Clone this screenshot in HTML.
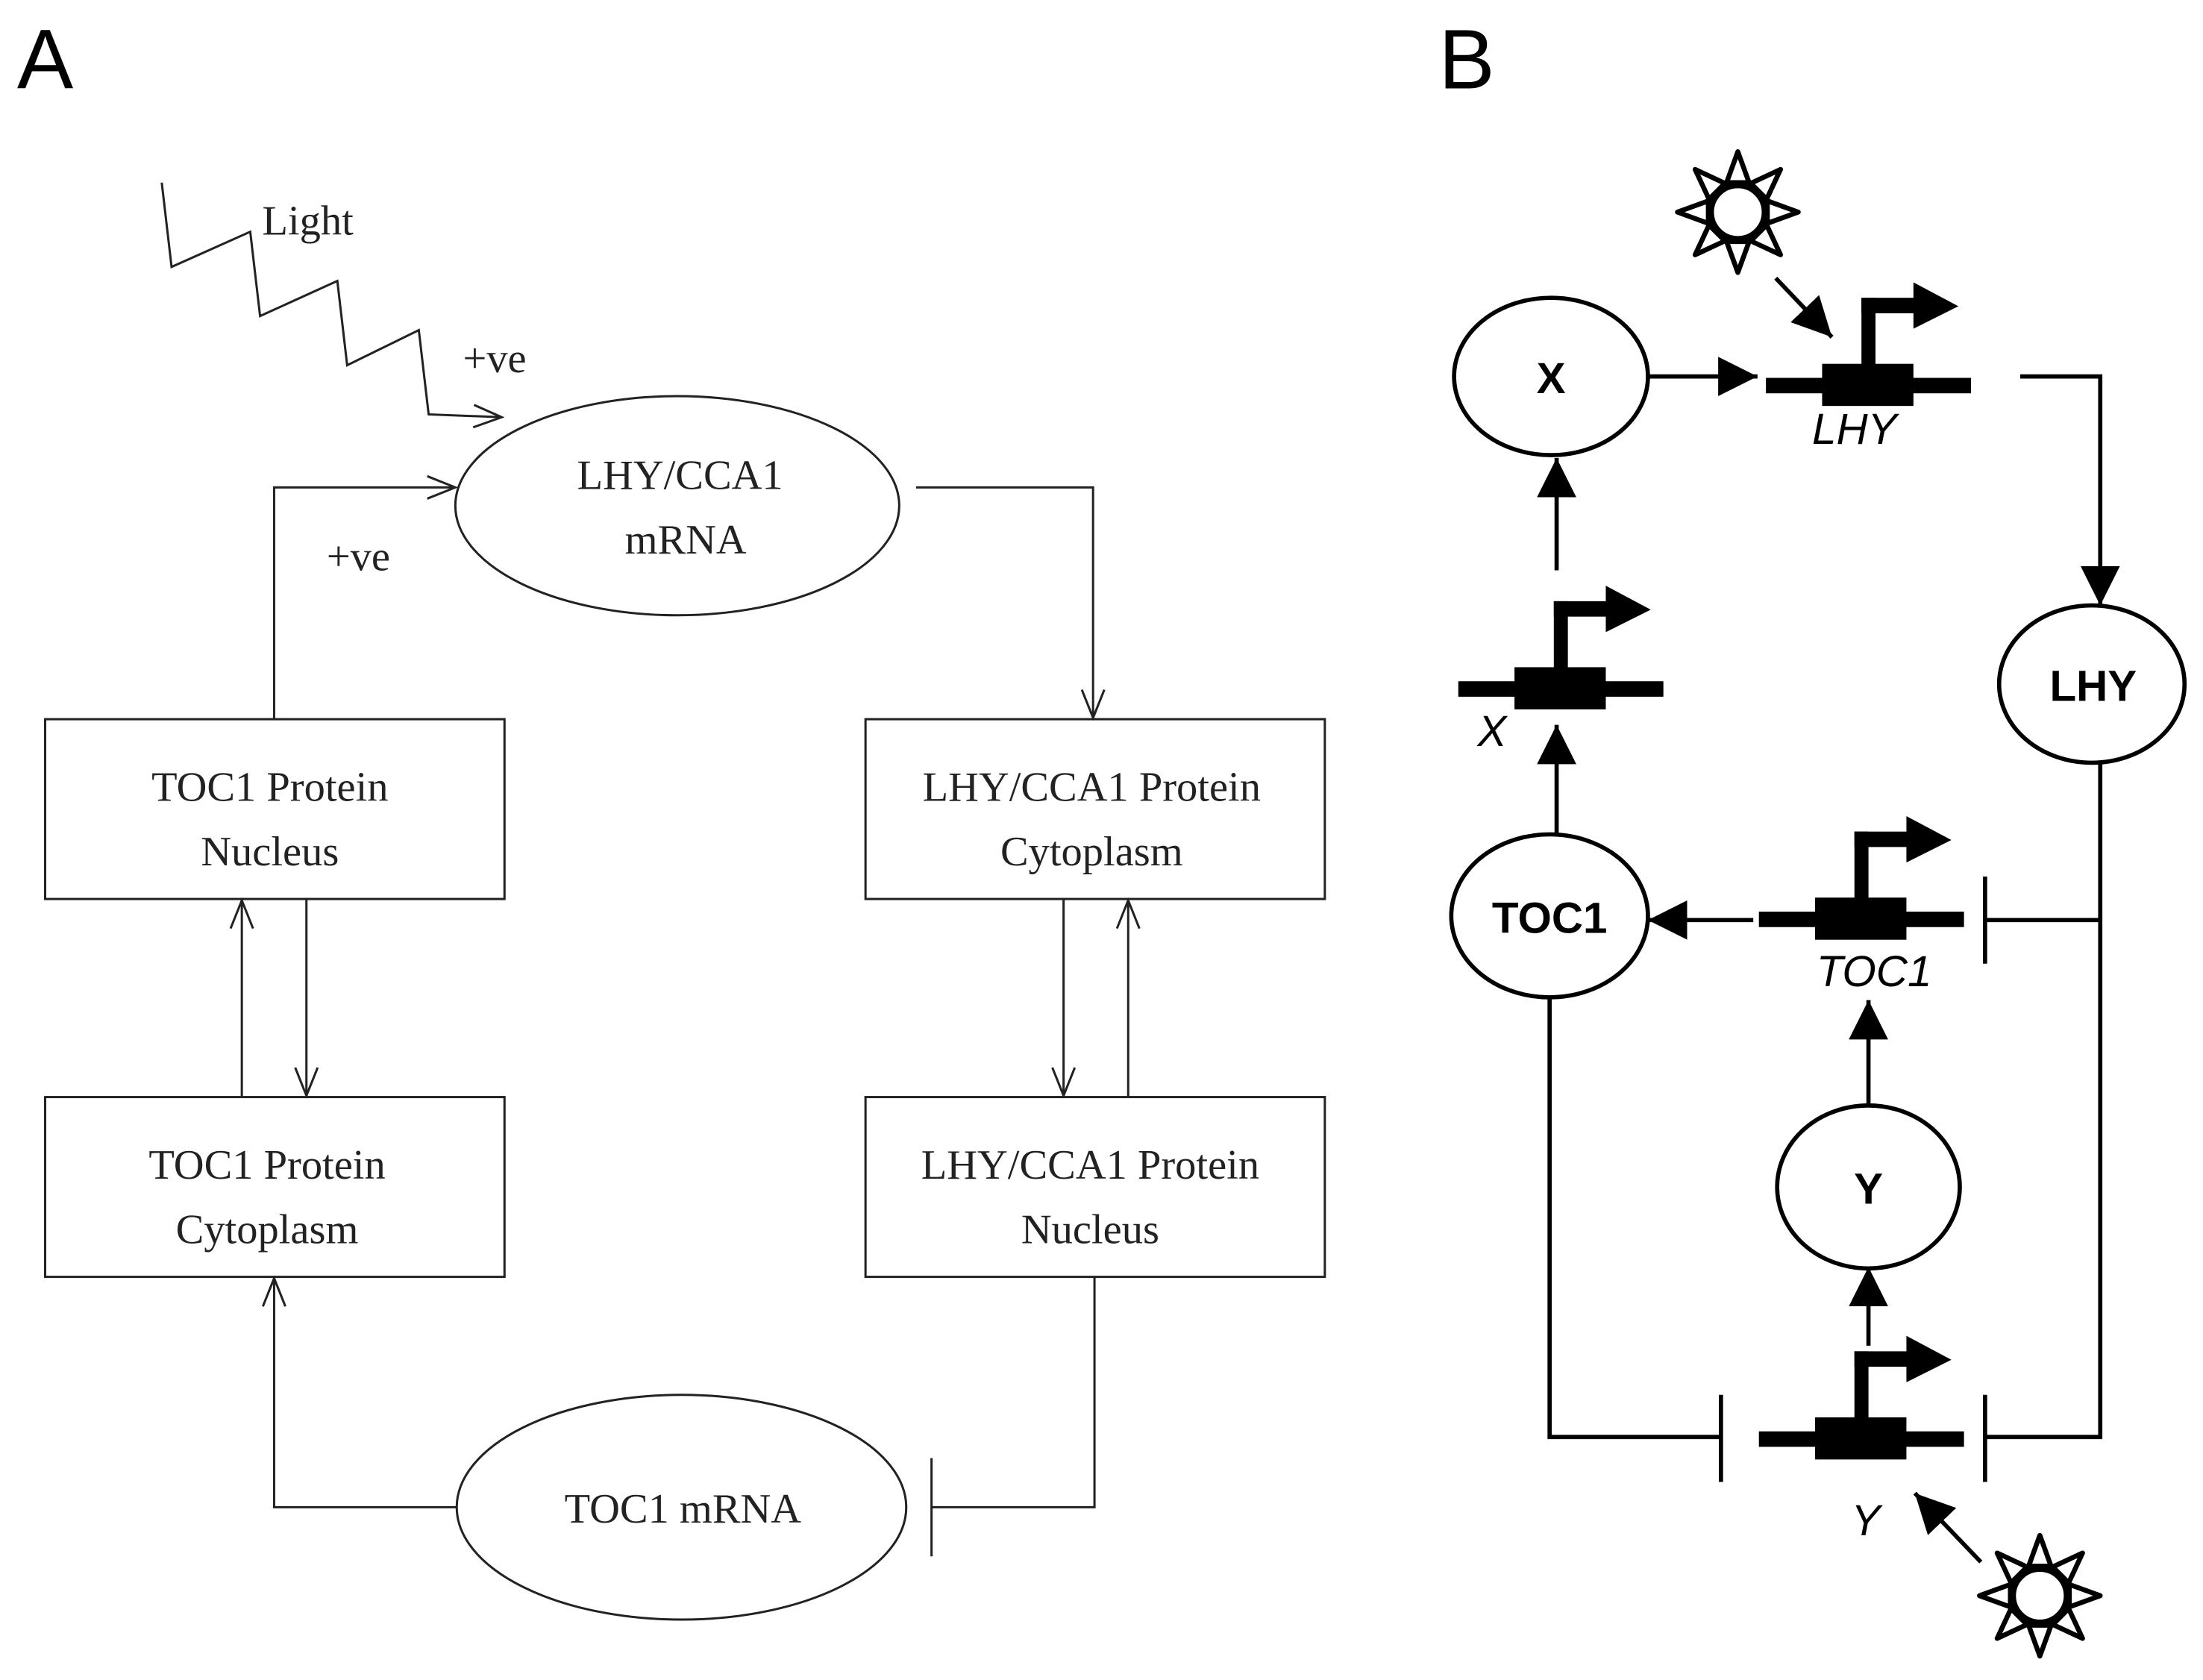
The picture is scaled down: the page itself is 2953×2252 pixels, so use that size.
<!DOCTYPE html>
<html><head><meta charset="utf-8"><style>html,body{margin:0;padding:0;background:#fff}svg{display:block}</style></head>
<body>
<svg width="2953" height="2252" viewBox="0 0 1568 1196" xmlns="http://www.w3.org/2000/svg">
<defs>
<marker id="oa" markerWidth="24" markerHeight="18" refX="22" refY="9" orient="auto" markerUnits="userSpaceOnUse">
<path d="M2,1 L22,9 L2,17" fill="none" stroke="#222" stroke-width="1.6"/>
</marker>
<marker id="fa" markerWidth="30" markerHeight="28" refX="28" refY="14" orient="auto" markerUnits="userSpaceOnUse">
<path d="M0,0 L28,14 L0,28 Z" fill="#000"/>
</marker>
<g id="gene">
<rect x="-73" y="-6" width="146" height="11" fill="#000"/>
<rect x="-33" y="-16" width="65" height="30" fill="#000"/>
<rect x="-5" y="-63" width="10" height="50" fill="#000"/>
<rect x="-5" y="-63" width="38" height="11" fill="#000"/>
<path d="M32,-74 L64,-57 L32,-41 Z" fill="#000"/>
</g>
<g id="sun">
<circle r="19" fill="#fff" stroke="#000" stroke-width="4"/>
<g fill="#fff" stroke="#000" stroke-width="3.5" stroke-linejoin="round">
<path d="M-8,-21 L0,-43 L8,-21 Z"/>
<path d="M-8,-21 L0,-43 L8,-21 Z" transform="rotate(45)"/>
<path d="M-8,-21 L0,-43 L8,-21 Z" transform="rotate(90)"/>
<path d="M-8,-21 L0,-43 L8,-21 Z" transform="rotate(135)"/>
<path d="M-8,-21 L0,-43 L8,-21 Z" transform="rotate(180)"/>
<path d="M-8,-21 L0,-43 L8,-21 Z" transform="rotate(225)"/>
<path d="M-8,-21 L0,-43 L8,-21 Z" transform="rotate(270)"/>
<path d="M-8,-21 L0,-43 L8,-21 Z" transform="rotate(315)"/>
</g>
</g>
</defs>

<text x="12" y="63" font-family="Liberation Sans, sans-serif" font-size="60" fill="#000">A</text>
<text x="1024" y="63" font-family="Liberation Sans, sans-serif" font-size="60" fill="#000">B</text>

<!-- Panel A -->
<g fill="none" stroke="#222" stroke-width="1.6">
<ellipse cx="482" cy="360" rx="158" ry="78"/>
<ellipse cx="485" cy="1073" rx="160" ry="80"/>
<rect x="32" y="512" width="327" height="128"/>
<rect x="616" y="512" width="327" height="128"/>
<rect x="32" y="781" width="327" height="128"/>
<rect x="616" y="781" width="327" height="128"/>
<polyline points="115,130 122,190 178,165 185,225 240,200 247,260 298,235 305,295 357,297" marker-end="url(#oa)"/>
<polyline points="195,512 195,347 324,347" marker-end="url(#oa)"/>
<polyline points="652,347 778,347 778,511" marker-end="url(#oa)"/>
<line x1="172" y1="781" x2="172" y2="641" marker-end="url(#oa)"/>
<line x1="218" y1="640" x2="218" y2="780" marker-end="url(#oa)"/>
<line x1="757" y1="640" x2="757" y2="780" marker-end="url(#oa)"/>
<line x1="803" y1="781" x2="803" y2="641" marker-end="url(#oa)"/>
<polyline points="779,909 779,1073 663,1073"/>
<line x1="663" y1="1038" x2="663" y2="1108"/>
<polyline points="325,1073 195,1073 195,910" marker-end="url(#oa)"/>
</g>
<g font-family="Liberation Serif, serif" font-size="30" fill="#222" text-anchor="middle">
<text x="219" y="167">Light</text>
<text x="352" y="265">+ve</text>
<text x="255" y="406">+ve</text>
<text x="484" y="348">LHY/CCA1</text>
<text x="488" y="394">mRNA</text>
<text x="486" y="1084">TOC1 mRNA</text>
<text x="192" y="570">TOC1 Protein</text>
<text x="192" y="616">Nucleus</text>
<text x="777" y="570">LHY/CCA1 Protein</text>
<text x="777" y="616">Cytoplasm</text>
<text x="190" y="839">TOC1 Protein</text>
<text x="190" y="885">Cytoplasm</text>
<text x="776" y="839">LHY/CCA1 Protein</text>
<text x="776" y="885">Nucleus</text>
</g>

<!-- Panel B -->
<g fill="none" stroke="#000" stroke-width="3">
<ellipse cx="1104" cy="268" rx="69" ry="56"/>
<ellipse cx="1489" cy="487" rx="66" ry="56"/>
<ellipse cx="1103" cy="652" rx="70" ry="58"/>
<ellipse cx="1330" cy="845" rx="65" ry="58"/>
<line x1="1173" y1="268" x2="1251" y2="268" marker-end="url(#fa)"/>
<line x1="1264" y1="198" x2="1304" y2="240" marker-end="url(#fa)"/>
<polyline points="1438,268 1495,268 1495,431" marker-end="url(#fa)"/>
<polyline points="1495,543 1495,1023 1413,1023"/>
<line x1="1413" y1="993" x2="1413" y2="1055"/>
<line x1="1495" y1="655" x2="1413" y2="655"/>
<line x1="1413" y1="624" x2="1413" y2="686"/>
<line x1="1248" y1="655" x2="1173" y2="655" marker-end="url(#fa)"/>
<line x1="1108" y1="594" x2="1108" y2="516" marker-end="url(#fa)"/>
<line x1="1108" y1="406" x2="1108" y2="326" marker-end="url(#fa)"/>
<line x1="1330" y1="786" x2="1330" y2="712" marker-end="url(#fa)"/>
<line x1="1330" y1="958" x2="1330" y2="902" marker-end="url(#fa)"/>
<polyline points="1103,711 1103,1023 1225,1023"/>
<line x1="1225" y1="993" x2="1225" y2="1055"/>
<line x1="1410" y1="1112" x2="1363" y2="1063" marker-end="url(#fa)"/>
</g>
<use href="#gene" x="1330" y="275"/>
<use href="#gene" x="1111" y="491"/>
<use href="#gene" x="1325" y="655"/>
<use href="#gene" x="1325" y="1025"/>
<use href="#sun" x="1237" y="151"/>
<use href="#sun" x="1452" y="1136"/>
<g font-family="Liberation Sans, sans-serif" font-size="31" fill="#000" text-anchor="middle">
<text x="1104" y="280" font-weight="bold">X</text>
<text x="1490" y="499" font-weight="bold">LHY</text>
<text x="1103" y="664" font-weight="bold">TOC1</text>
<text x="1330" y="857" font-weight="bold">Y</text>
<text x="1320" y="316" font-style="italic">LHY</text>
<text x="1062" y="531" font-style="italic">X</text>
<text x="1334" y="702" font-style="italic">TOC1</text>
<text x="1328" y="1093" font-style="italic">Y</text>
</g>
</svg>
</body></html>
